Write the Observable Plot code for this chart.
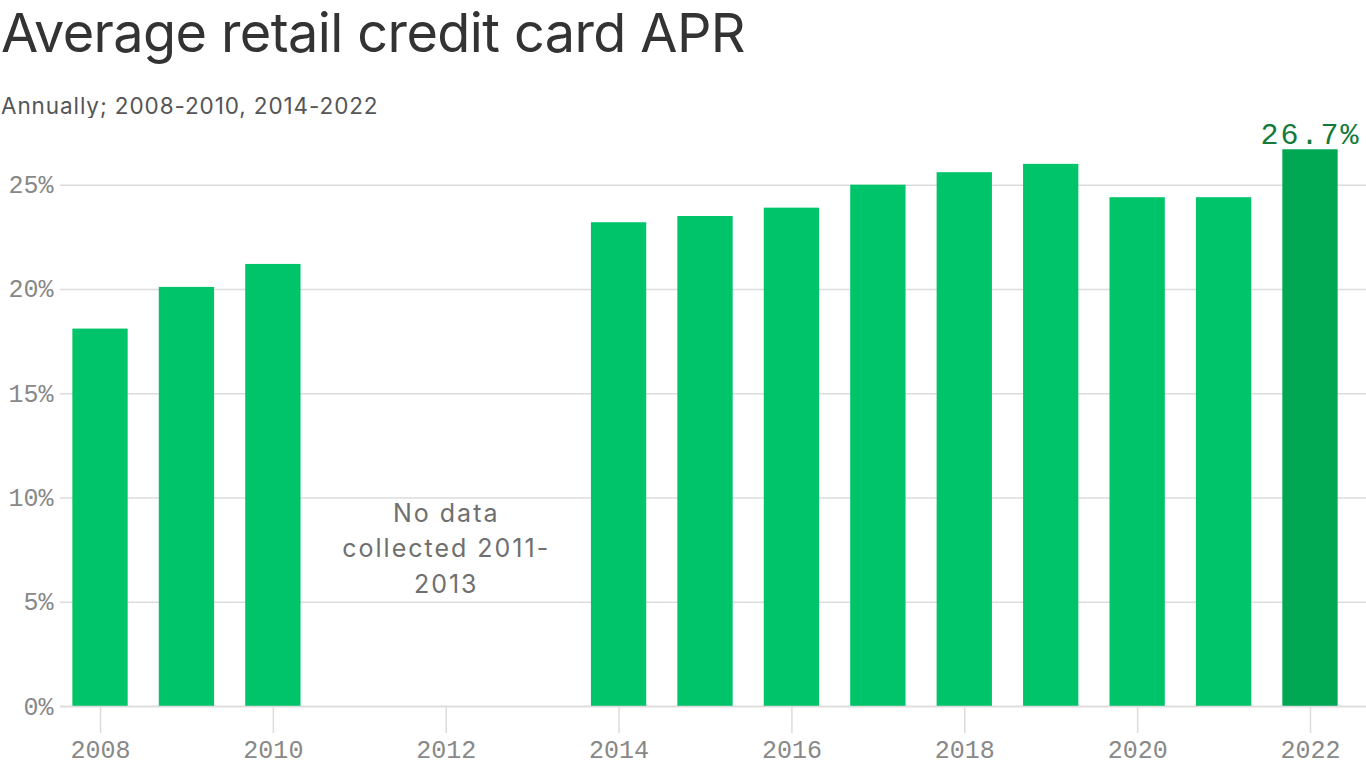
<!DOCTYPE html>
<html><head><meta charset="utf-8">
<script src="https://cdn.jsdelivr.net/npm/d3@7"></script>
<script src="https://cdn.jsdelivr.net/npm/@observablehq/plot@0.6"></script>
<style>
body{margin:0;background:#fff;width:1366px;height:768px;overflow:hidden;position:relative;font-family:Inter,sans-serif}
#title{position:absolute;left:1px;top:1px;font-size:54px;color:#333;letter-spacing:-0.6px;line-height:1.2;white-space:nowrap}
#subtitle{position:absolute;left:1px;top:92px;font-size:22.5px;color:#555;letter-spacing:0.9px;line-height:1.2;white-space:nowrap}
#chart{position:absolute;left:0;top:118px}
</style></head><body>
<div id="title">Average retail credit card APR</div>
<div id="subtitle">Annually; 2008-2010, 2014-2022</div>
<div id="chart"></div>
<script>
const years = [2008, 2009, 2010, 2014, 2015, 2016, 2017, 2018, 2019, 2020, 2021, 2022];
const apr = [18.1, 20.1, 21.2, 23.2, 23.5, 23.9, 25.0, 25.6, 26.0, 24.4, 24.4, 26.7];
const xTicks = [2008, 2010, 2012, 2014, 2016, 2018, 2020, 2022];
const yTicks = [0, 5, 10, 15, 20, 25];
const noteText = "No data\ncollected 2011-\n2013";
const noteYear = 2012;
const noteValue = 7.7;
const highlightYear = 2022;

const data = years.map((year, i) => ({year, apr: apr[i]}));
const latest = data.find(d => d.year === highlightYear);
const mono = "'Liberation Mono', 'DejaVu Sans Mono', monospace";

const chart = Plot.plot({
  width: 1366,
  height: 650,
  marginTop: 25,
  marginBottom: 62,
  marginLeft: 60,
  marginRight: 0,
  style: {background: "#fff", overflow: "visible"},
  x: {domain: [2007.537, 2022.648]},
  y: {domain: [0, 27]},
  marks: [
    Plot.gridY({ticks: yTicks, stroke: "#dcdcdc", strokeOpacity: 1, strokeWidth: 1.5}),
    Plot.rectY(data, {
      x1: d => d.year - 0.32,
      x2: d => d.year + 0.32,
      y: "apr",
      fill: d => d.year === highlightYear ? "#00a854" : "#00c46a"
    }),
    Plot.ruleY([0], {stroke: "#dcdcdc", strokeWidth: 1.5}),
    Plot.axisY({ticks: yTicks, tickFormat: d => d + "%", tickSize: 0, tickPadding: 7,
      fontFamily: mono, fontSize: 25, fill: "#888", label: null}),
    Plot.axisX({ticks: xTicks, tickFormat: d => String(d), tickSize: 27, tickPadding: 7,
      stroke: "#dcdcdc", strokeWidth: 1.5, fontFamily: mono, fontSize: 25, fill: "#888", label: null}),
    Plot.text([{year: noteYear, apr: noteValue}], {
      x: "year", y: "apr", text: () => noteText, lineHeight: 1.42,
      fontSize: 25, fontFamily: "Inter, sans-serif", fill: "#6f6f6f",
      stroke: "#fff", strokeWidth: 6
    }),
    Plot.text([latest], {
      x: "year", y: "apr", text: d => d.apr.toFixed(1) + "%", lineAnchor: "bottom", dy: -6,
      fontSize: 30, fontFamily: mono, fill: "#137a3c"
    })
  ]
});
// extra tracking on the two annotation labels (the last two text marks)
const textGroups = chart.querySelectorAll('g[aria-label="text"]');
textGroups.forEach(g => g.setAttribute("letter-spacing", "2"));
document.getElementById("chart").append(chart);
</script>
</body></html>
